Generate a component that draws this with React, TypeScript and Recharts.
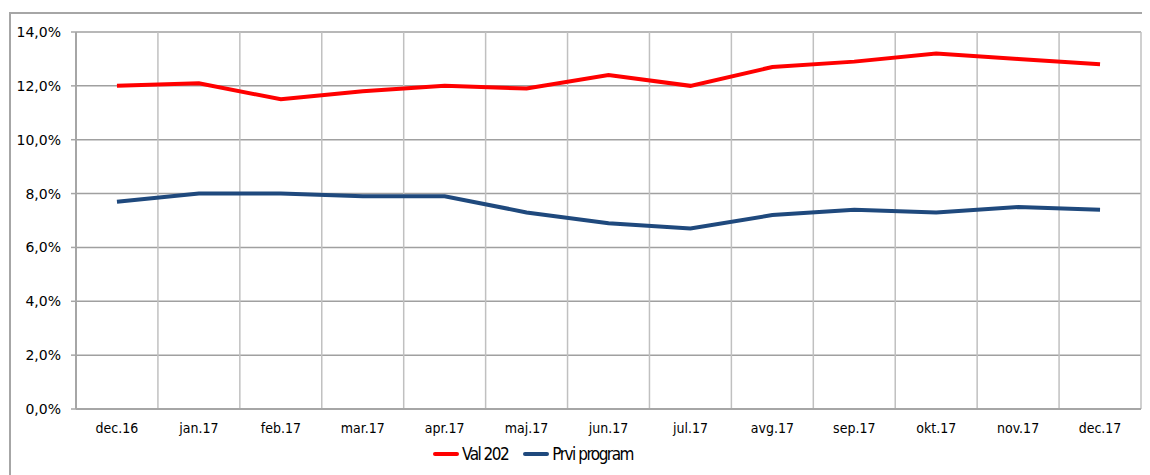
import React from "react";
import {
  LineChart,
  Line,
  XAxis,
  YAxis,
  CartesianGrid,
  Legend,
} from "recharts";

// months shown on the x axis
const months = [
  "dec.16",
  "jan.17",
  "feb.17",
  "mar.17",
  "apr.17",
  "maj.17",
  "jun.17",
  "jul.17",
  "avg.17",
  "sep.17",
  "okt.17",
  "nov.17",
  "dec.17",
];

// share in percent
const val202 = [12.0, 12.1, 11.5, 11.8, 12.0, 11.9, 12.4, 12.0, 12.7, 12.9, 13.2, 13.0, 12.8];
const prviProgram = [7.7, 8.0, 8.0, 7.9, 7.9, 7.3, 6.9, 6.7, 7.2, 7.4, 7.3, 7.5, 7.4];

const seriesNames = ["Val 202", "Prvi program"];
const yTicks = [0, 2, 4, 6, 8, 10, 12, 14];
// category boundaries (Excel draws grid between categories)
const edgeTicks = months.map((_, i) => i).concat(months.length);

const data = months.map((month, i) => ({
  month,
  val202: val202[i],
  prvi: prviProgram[i],
}));

const AXIS_GRAY = "#a6a6a6";
const FONT = "'DejaVu Sans Condensed', 'DejaVu Sans', sans-serif";

const formatPct = (v: number) => v.toFixed(1).replace(".", ",") + "%";

const renderLegend = (props: any) => {
  const payload = [...(props.payload || [])].sort(
    (a: any, b: any) => seriesNames.indexOf(a.value) - seriesNames.indexOf(b.value)
  );
  return (
    <div
      style={{
        display: "flex",
        alignItems: "center",
        fontFamily: FONT,
        fontSize: 17,
        letterSpacing: -1.5,
        color: "#000",
        height: 22,
      }}
    >
      {payload.map((entry: any) => (
        <div key={entry.value} style={{ display: "flex", alignItems: "center", marginRight: 15 }}>
          <span
            style={{
              display: "inline-block",
              width: 26,
              height: 4,
              borderRadius: 2,
              background: entry.color,
              marginRight: 3,
            }}
          />
          <span>{entry.value}</span>
        </div>
      ))}
    </div>
  );
};

const App: React.FC = () => {
  return (
    <div style={{ position: "relative", width: 1142, height: 467 }}>
      <div
        style={{
          position: "absolute",
          left: 1,
          top: 4,
          right: 0,
          bottom: 0,
          borderTop: `2px solid ${AXIS_GRAY}`,
          borderLeft: `2px solid ${AXIS_GRAY}`,
        }}
      />
      <LineChart
        width={1142}
        height={467}
        data={data}
        margin={{ top: 24, right: 9, bottom: 0, left: 8 }}
        style={{ position: "absolute", left: 0, top: 0 }}
      >
        <CartesianGrid horizontal={true} vertical={false} stroke="#a0a0a0" strokeWidth={1.5} />
        <CartesianGrid
          horizontal={false}
          vertical={true}
          xAxisId="edges"
          stroke="#c0c0c0"
          strokeWidth={1.5}
        />
        <XAxis
          xAxisId="edges"
          type="number"
          dataKey={() => 0}
          domain={[0, months.length]}
          ticks={edgeTicks}
          height={0}
          axisLine={false}
          tickSize={5}
          tickLine={{ stroke: AXIS_GRAY, strokeWidth: 1.5 }}
          tickFormatter={() => ""}
          allowDataOverflow
        />
        <XAxis
          dataKey="month"
          scale="band"
          height={44}
          interval={0}
          tickLine={false}
          tickMargin={8}
          axisLine={{ stroke: AXIS_GRAY, strokeWidth: 2 }}
          tick={{ fill: "#000", fontSize: 14, fontFamily: FONT }}
        />
        <YAxis
          width={60}
          domain={[0, 14]}
          ticks={yTicks}
          tickFormatter={formatPct}
          tickSize={5}
          tickMargin={10}
          axisLine={{ stroke: AXIS_GRAY, strokeWidth: 2 }}
          tickLine={{ stroke: AXIS_GRAY, strokeWidth: 1.5 }}
          tick={{ fill: "#000", fontSize: 14, fontFamily: "'DejaVu Sans', sans-serif" }}
        />
        <Legend
          content={renderLegend}
          wrapperStyle={{ left: 425, top: 435, width: "auto" }}
        />
        <Line
          name={seriesNames[0]}
          dataKey="val202"
          stroke="#ff0000"
          strokeWidth={4}
          dot={false}
          isAnimationActive={false}
        />
        <Line
          name={seriesNames[1]}
          dataKey="prvi"
          stroke="#1f497d"
          strokeWidth={4}
          dot={false}
          isAnimationActive={false}
        />
      </LineChart>
    </div>
  );
};

export default App;
